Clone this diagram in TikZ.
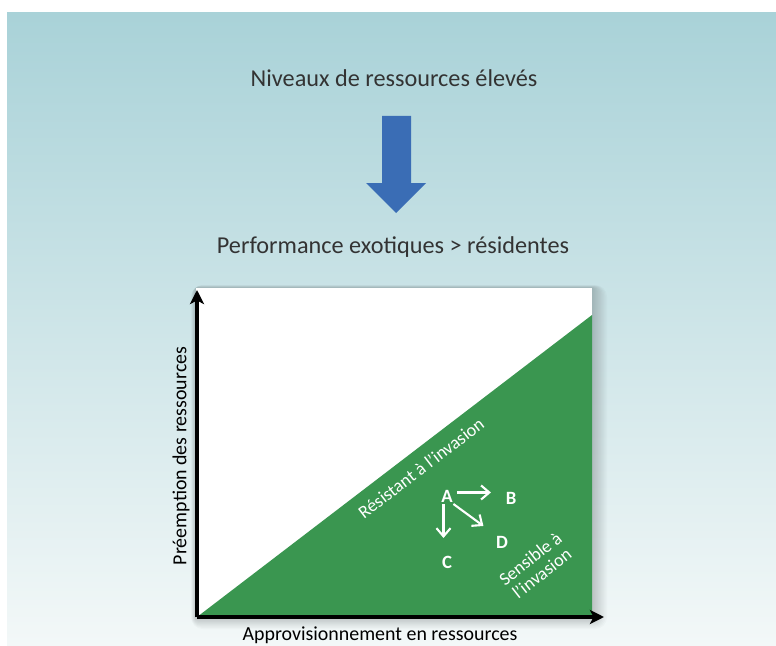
\documentclass[tikz,border=0pt]{standalone}
\usepackage{fontspec}
\setmainfont{Carlito}
\usetikzlibrary{arrows.meta}
\definecolor{skytop}{HTML}{A9D2D8}
\definecolor{skybot}{HTML}{F3F8F8}
\definecolor{zonegreen}{HTML}{3A9650}
\definecolor{arrowblue}{HTML}{3A6DB5}
\begin{document}
\begin{tikzpicture}
[
 x=0.03cm, y=-0.03cm,
 inner sep=0.5mm,
 TITLE/.style={font=\fontsize{20.7}{24}\selectfont, text=black!80},
 AXLAB/.style={font=\fontsize{17}{20}\selectfont, text=black},
 ZONE/.style={font=\fontsize{15.5}{16}\selectfont, text=white, align=center},
 LETTER/.style={font=\fontsize{16}{18}\selectfont\bfseries, text=white},
 AXIS/.style={line width=2.6pt, -{Stealth[length=12pt, width=12pt, inset=3pt]}},
 MOVE/.style={white, line width=1.8pt, -{Straight Barb[length=7pt, width=12pt]}},
 ],
%
\useasboundingbox (0,0) rectangle (776,646);
\fill[white] (0,0) rectangle (776,646);
\shade[top color=skytop, bottom color=skybot] (7,13) rectangle (776,646);
%
\node [TITLE]  (HIGH)  at (394, 78)  {Niveaux de ressources élevés};
\node [TITLE]  (PERF)  at (393, 247)  {Performance exotiques > résidentes};
%
\fill [arrowblue]  (382,116) -- (411,116) -- (411,183) -- (426,183)
   -- (396,213) -- (366,183) -- (382,183) -- cycle;
%
% soft shadow of the chart
\foreach \s in {1,...,10}
   {
     \fill [black, opacity=0.02, rounded corners=\s pt]
        (196-0.5*\s, 288-0.3*\s) rectangle (592+1.5*\s, 617+1.2*\s);
   }
%
\fill [white]  (196,288) rectangle (592,617);
\fill [zonegreen]  (197,617) -- (592,315) -- (592,617) -- cycle;
%
\coordinate (O)    at (197,617);
\coordinate (YTOP) at (197,290);
\coordinate (XEND) at (604,617);
\draw [AXIS]  (O) -- (YTOP);
\draw [AXIS]  (O) -- (XEND);
%
\node [AXLAB, rotate=90]  (YLAB)  at (181,456)  {Préemption des ressources};
\node [AXLAB]  (XLAB)  at (380,635)  {Approvisionnement en ressources};
%
\node [ZONE, rotate=37.4]  (RESIST)  at (421,468)  {Résistant à l’invasion};
\node [ZONE, rotate=38]  (SENSIB)  at (536,566)  {Sensible à\\ l’invasion};
%
\node [LETTER]  (A)  at (447,496)  {A};
\node [LETTER]  (B)  at (511,498)  {B};
\node [LETTER]  (C)  at (447,562)  {C};
\node [LETTER]  (D)  at (502,542)  {D};
%
\draw [MOVE]  ([xshift=2pt, yshift=3pt]A.east)  -- ++(34,0) ;
\draw [MOVE]  ([xshift=-3pt]A.south)  -- ++(0,34) ;
\draw [MOVE]  ([xshift=-1pt]A.south east)  -- ++(30,22) ;
%
\end{tikzpicture}
\end{document}
